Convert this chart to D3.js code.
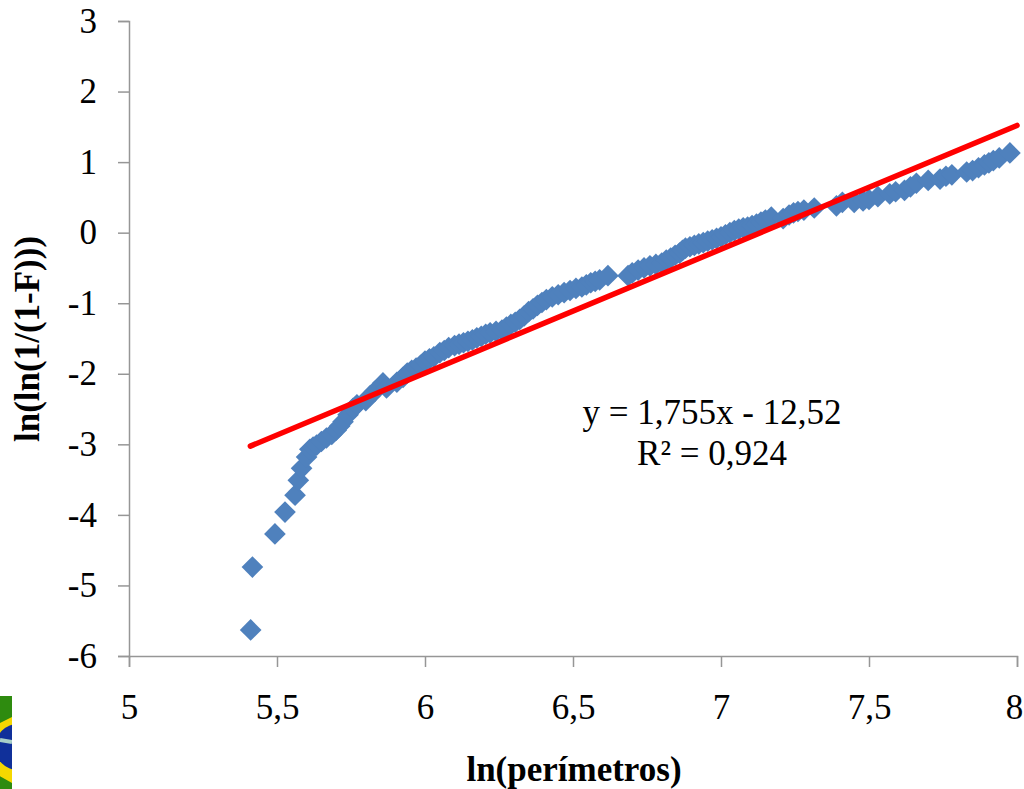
<!DOCTYPE html>
<html>
<head>
<meta charset="utf-8">
<style>
    html, body { margin: 0; padding: 0; background: #fff; }
    svg { display: block; }
    text { font-family: "Liberation Serif", serif; fill: #000; }
</style>
<script src="https://cdnjs.cloudflare.com/ajax/libs/d3/7.8.5/d3.min.js"></script>
</head>
<body>
<div id="graph"></div>
<script>
// Values
const perimeters = [5.411, 5.417, 5.493, 5.527, 5.561, 5.572, 5.583, 5.60, 5.611, 5.622, 5.634, 5.65, 5.667, 5.685, 5.70, 5.712, 5.723, 5.74, 5.757, 5.77, 5.80, 5.815, 5.83, 5.858, 5.87, 5.905, 5.926, 5.94, 5.955, 5.97, 5.985, 6.0,
    6.015, 6.03, 6.05, 6.065, 6.08, 6.10, 6.115, 6.13, 6.145, 6.16, 6.175, 6.19, 6.205, 6.22, 6.24, 6.26, 6.275, 6.29, 6.305, 6.32, 6.335, 6.35, 6.365, 6.38, 6.395, 6.41, 6.43, 6.45, 6.47, 6.49, 6.51, 6.53, 6.545, 6.56, 6.575, 6.59, 6.618,
    6.686, 6.70, 6.72, 6.74, 6.76, 6.78, 6.80, 6.815, 6.83, 6.845, 6.86, 6.87, 6.88, 6.895, 6.91, 6.925, 6.94, 6.955, 6.97, 6.985, 7.0, 7.015, 7.03, 7.045, 7.06, 7.075, 7.09, 7.105, 7.12, 7.135, 7.15, 7.17, 7.21, 7.23, 7.245, 7.26, 7.28, 7.315,
    7.39, 7.41, 7.45, 7.48, 7.50, 7.53, 7.57, 7.59, 7.62, 7.64, 7.66, 7.70, 7.74, 7.76, 7.78, 7.83, 7.85, 7.87, 7.89, 7.905, 7.92, 7.94, 7.976];
const lnValues = [-5.63, -4.74, -4.27, -3.96, -3.72, -3.51, -3.34, -3.18, -3.07, -3.04, -3.01, -2.96, -2.91, -2.86, -2.8, -2.74, -2.68, -2.58, -2.49, -2.44, -2.38, -2.31, -2.25, -2.13, -2.2, -2.12, -2.05, -1.99, -1.95, -1.92, -1.88, -1.82,
    -1.79, -1.76, -1.7, -1.67, -1.63, -1.6, -1.58, -1.56, -1.54, -1.52, -1.49, -1.47, -1.44, -1.42, -1.4, -1.38, -1.34, -1.3, -1.27, -1.23, -1.18, -1.12, -1.08, -1.03, -0.99, -0.95, -0.91, -0.88, -0.85, -0.82, -0.79, -0.77, -0.74, -0.71, -0.69, -0.67, -0.61,
    -0.61, -0.57, -0.53, -0.5, -0.47, -0.45, -0.43, -0.39, -0.36, -0.32, -0.29, -0.25, -0.22, -0.2, -0.18, -0.16, -0.14, -0.12, -0.1, -0.08, -0.06, -0.03, 0, 0.03, 0.05, 0.07, 0.08, 0.1, 0.12, 0.15, 0.18, 0.22, 0.2, 0.25, 0.28, 0.3, 0.32, 0.35,
    0.38, 0.43, 0.43, 0.45, 0.47, 0.51, 0.55, 0.58, 0.6, 0.65, 0.7, 0.74, 0.76, 0.8, 0.82, 0.86, 0.88, 0.92, 0.96, 0.99, 1.02, 1.06, 1.13];
const xTicks = [5, 5.5, 6, 6.5, 7, 7.5, 8];
const yTicks = [3, 2, 1, 0, -1, -2, -3, -4, -5, -6];
const slope = 1.755;
const intercept = -12.52;
const trendRange = [5.41, 8];

const width = 1024;
const height = 789;
const margin = { top: 21, right: 7, bottom: 133, left: 129 };

const svg = d3.select('#graph').append('svg')
    .attr('width', width)
    .attr('height', height);

const xScale = d3.scaleLinear().domain([5, 8]).range([margin.left, width - margin.right]);
const yScale = d3.scaleLinear().domain([-6, 3]).range([height - margin.bottom, margin.top]);

const decimalComma = d => String(d).replace('.', ',');

// Axes
const xAxis = svg.append('g')
    .attr('transform', `translate(0, ${yScale(-6)})`)
    .call(d3.axisBottom(xScale).tickValues(xTicks).tickFormat(decimalComma).tickSize(11).tickPadding(27));
const yAxis = svg.append('g')
    .attr('transform', `translate(${margin.left}, 0)`)
    .call(d3.axisLeft(yScale).tickValues(yTicks).tickFormat(d => d).tickSize(11).tickPadding(21));
[xAxis, yAxis].forEach(axis => {
    axis.attr('font-family', null).attr('font-size', null);
    axis.selectAll('.domain, line').attr('stroke', '#969696').attr('stroke-width', 1.5);
    axis.selectAll('text').style('font-size', '35px');
});
// Last label would run off the page otherwise
xAxis.selectAll('text').filter(d => d === 8).attr('dx', -3);

// Points
const symbol = d3.symbol().type(d3.symbolSquare).size(235);
svg.append('g').selectAll('path')
    .data(perimeters.map((x, i) => [x, lnValues[i]]))
    .enter().append('path')
    .attr('d', symbol)
    .attr('transform', d => `translate(${xScale(d[0])}, ${yScale(d[1])}) rotate(45)`)
    .attr('fill', '#4f81bd');

// Trend line
svg.append('path')
    .datum(trendRange)
    .attr('d', d3.line().x(d => xScale(d)).y(d => yScale(slope * d + intercept)))
    .attr('stroke', '#ff0000')
    .attr('stroke-width', 5.5)
    .attr('stroke-linecap', 'round')
    .attr('fill', 'none');

// Equation
svg.append('text')
    .attr('x', 712).attr('y', 424)
    .attr('text-anchor', 'middle')
    .style('font-size', '35px')
    .text('y = 1,755x - 12,52');
svg.append('text')
    .attr('x', 712).attr('y', 465)
    .attr('text-anchor', 'middle')
    .style('font-size', '35px')
    .text('R² = 0,924');

// Axis titles
svg.append('text')
    .attr('x', 574).attr('y', 781)
    .attr('text-anchor', 'middle')
    .style('font-size', '35px')
    .style('font-weight', 'bold')
    .text('ln(perímetros)');
svg.append('text')
    .attr('transform', 'translate(39, 339) rotate(-90)')
    .attr('text-anchor', 'middle')
    .style('font-size', '35px')
    .style('font-weight', 'bold')
    .text('ln(ln(1/(1-F)))');

// Flag cut off at the page corner
const flag = svg.append('g');
flag.append('clipPath').attr('id', 'flag-clip')
    .append('rect').attr('x', 0).attr('y', 696).attr('width', 12).attr('height', 93);
const flagArt = flag.append('g').attr('clip-path', 'url(#flag-clip)');
flagArt.append('rect').attr('x', 0).attr('y', 696).attr('width', 12).attr('height', 93).attr('fill', '#2e8b0f');
flagArt.append('path').attr('d', 'M-50,748 L60,693 L170,748 L60,810 Z').attr('fill', '#f5d800');
flagArt.append('circle').attr('cx', 18).attr('cy', 747).attr('r', 23).attr('fill', '#10309a');
flagArt.append('path').attr('d', 'M0,740 L12,742').attr('stroke', '#a8cfc8').attr('stroke-width', 4);
</script>
</body>
</html>
